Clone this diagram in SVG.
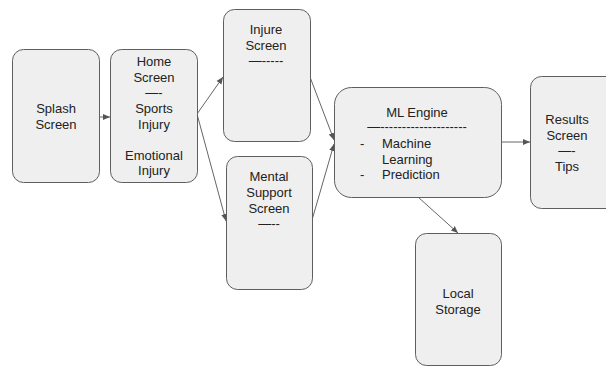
<svg xmlns="http://www.w3.org/2000/svg" width="606" height="367" viewBox="0 0 606 367">
<style>
.box{fill:#efefef;stroke:#5f5f5f;stroke-width:1}
.t{font-family:"Liberation Sans",Arial,sans-serif;font-size:13px;fill:#222;text-anchor:middle}
.l{font-family:"Liberation Sans",Arial,sans-serif;font-size:13px;fill:#222}
.c{stroke:#666;stroke-width:1;fill:none;marker-end:url(#ah)}
</style>
<defs>
<marker id="ah" markerUnits="userSpaceOnUse" markerWidth="8" markerHeight="8" refX="7" refY="4" orient="auto">
<path d="M0,1 L7,4 L0,7 Z" fill="#555"/>
</marker>
</defs>
<rect width="606" height="367" fill="#fff"/>
<g id="connectors">
<line class="c" x1="99" y1="117" x2="110" y2="117"/>
<line class="c" x1="197" y1="114" x2="223" y2="77"/>
<line class="c" x1="197" y1="114" x2="226" y2="221"/>
<line class="c" x1="310" y1="77" x2="334" y2="140"/>
<line class="c" x1="312" y1="220" x2="334" y2="144"/>
<line class="c" x1="501" y1="142" x2="530" y2="142"/>
<line class="c" x1="418" y1="197" x2="458" y2="233"/>
</g>
<g id="splash">
<rect class="box" x="12.5" y="49.5" width="87" height="133" rx="11"/>
<text class="t" x="56" y="113">Splash</text>
<text class="t" x="56" y="129">Screen</text>
</g>
<g id="home">
<rect class="box" x="110.5" y="49.5" width="87" height="133" rx="11"/>
<text class="t" x="154" y="66">Home</text>
<text class="t" x="154" y="81.5">Screen</text>
<text class="t" x="154" y="97">—-</text>
<text class="t" x="154" y="113">Sports</text>
<text class="t" x="154" y="128.5">Injury</text>
<text class="t" x="154" y="159.5">Emotional</text>
<text class="t" x="154" y="175">Injury</text>
</g>
<g id="injure">
<rect class="box" x="223.5" y="9.5" width="87" height="132" rx="11"/>
<text class="t" x="266" y="34">Injure</text>
<text class="t" x="266" y="49.5">Screen</text>
<text class="t" x="266" y="65">—-----</text>
</g>
<g id="mental">
<rect class="box" x="226.5" y="156.5" width="86" height="133" rx="11"/>
<text class="t" x="269" y="181">Mental</text>
<text class="t" x="269" y="197">Support</text>
<text class="t" x="269" y="213">Screen</text>
<text class="t" x="269" y="228">—--</text>
</g>
<g id="ml">
<rect class="box" x="334.5" y="87.5" width="167" height="110" rx="17"/>
<text class="t" x="417" y="117">ML Engine</text>
<text class="t" x="417" y="131">—--------------------</text>
<text class="l" x="360" y="148">-</text>
<text class="l" x="382" y="148">Machine</text>
<text class="l" x="382" y="163.5">Learning</text>
<text class="l" x="360" y="179">-</text>
<text class="l" x="382" y="179">Prediction</text>
</g>
<g id="results">
<rect class="box" x="530.5" y="76.5" width="90" height="132" rx="11"/>
<text class="t" x="567" y="124">Results</text>
<text class="t" x="567" y="140">Screen</text>
<text class="t" x="567" y="155">—-</text>
<text class="t" x="567" y="171">Tips</text>
</g>
<g id="storage">
<rect class="box" x="415.5" y="233.5" width="86" height="132" rx="11"/>
<text class="t" x="458" y="298">Local</text>
<text class="t" x="458" y="314">Storage</text>
</g>
</svg>
